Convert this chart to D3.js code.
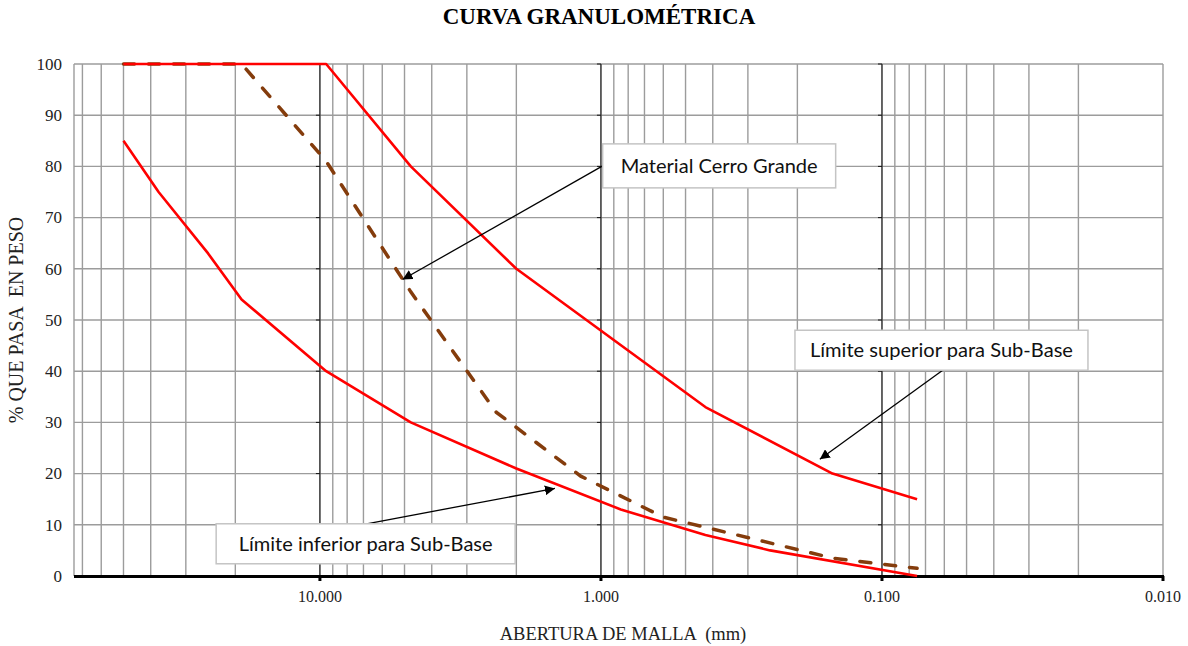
<html>
<head>
  <title>Curva granulometrica</title>
  <script src="https://d3js.org/d3.v7.min.js"></script>
  <style>
    body { margin: 0; background: #fff; }
    .serif { font-family: "Times New Roman", "Liberation Serif", serif; fill: #222; white-space: pre; }
    .note { font-family: Lato, "Open Sans", sans-serif; fill: #111; }
  </style>
</head>
<body>
  <div id="vis"></div>
  <script>
    // sieve openings (mm) and % passing for each curve
    var supSizes = [50, 9.5, 4.75, 2.0, 0.425, 0.15, 0.075];
    var supPass = [100, 100, 80, 60, 33, 20, 15];
    var infSizes = [50, 37.5, 25, 19, 9.5, 4.75, 2.0, 0.85, 0.425, 0.25, 0.075];
    var infPass = [85, 75, 63, 54, 40, 30, 21, 13, 8, 5, 0];
    var matSizes = [50, 37.5, 25, 19, 9.5, 4.75, 2.36, 1.18, 0.6, 0.15, 0.075];
    var matPass = [100, 100, 100, 100, 81, 55.5, 32, 19.5, 11.5, 3.5, 1.5];

    var yTicks = [0, 10, 20, 30, 40, 50, 60, 70, 80, 90, 100];
    var xDecades = [10, 1, 0.1, 0.01];
    var xTickLabels = ["10.000", "1.000", "0.100", "0.010"];

    // callouts: box corner and arrow ends in data units (mm, %)
    var notes = [
      {text: "Material Cerro Grande", bx: 0.986, by: 84.4, w: 233, h: 44, fx: 0.986, fy: 80.1, tx: 5.08, ty: 57.9, len: 197},
      {text: "Límite superior para Sub-Base", bx: 0.204, by: 48.0, w: 293, h: 40, fx: 0.0608, fy: 40.2, tx: 0.1664, ty: 22.8, len: 263},
      {text: "Límite inferior para Sub-Base", bx: 23.4, by: 10.2, w: 299, h: 40, fx: 6.82, fy: 10.2, tx: 1.458, ty: 17.1, len: 254}
    ];

    var W = 1188, H = 646;
    var svg = d3.select('#vis').append('svg')
      .attr('width', W).attr('height', H);

    var x = d3.scaleLog().domain([75, 0.01]).range([74, 1163]);
    var y = d3.scaleLinear().domain([0, 100]).range([576, 64]);

    // grid
    svg.append('g').selectAll('line.vg')
      .data(x.ticks())
      .enter().append('line')
        .attr('x1', function(d) { return x(d); })
        .attr('x2', function(d) { return x(d); })
        .attr('y1', y(0)).attr('y2', y(100))
        .attr('stroke', '#9c9c9c').attr('stroke-width', 1.4);

    svg.append('line')
      .attr('x1', x(75)).attr('x2', x(75))
      .attr('y1', y(0)).attr('y2', y(100))
      .attr('stroke', '#9c9c9c').attr('stroke-width', 1.4);

    svg.append('g').selectAll('line.hg')
      .data(yTicks)
      .enter().append('line')
        .attr('x1', x(75)).attr('x2', x(0.01))
        .attr('y1', function(d) { return y(d); })
        .attr('y2', function(d) { return y(d); })
        .attr('stroke', '#9c9c9c').attr('stroke-width', 1.4);

    // decade lines, darker, with little ticks
    var dec = svg.append('g');
    dec.selectAll('line')
      .data(xDecades.slice(0, 3))
      .enter().append('line')
        .attr('x1', function(d) { return x(d); })
        .attr('x2', function(d) { return x(d); })
        .attr('y1', y(0)).attr('y2', y(100))
        .attr('stroke', '#111').attr('stroke-width', 1);
    xDecades.slice(0, 3).forEach(function(dv) {
      dec.selectAll('line.t' + String(dv).replace('.', ''))
        .data(yTicks)
        .enter().append('line')
          .attr('x1', x(dv) - 4).attr('x2', x(dv))
          .attr('y1', function(d) { return y(d); })
          .attr('y2', function(d) { return y(d); })
          .attr('stroke', '#111').attr('stroke-width', 1);
    });

    // y labels
    svg.append('g').selectAll('text')
      .data(yTicks)
      .enter().append('text')
        .attr('class', 'serif')
        .attr('x', 62)
        .attr('y', function(d) { return y(d); })
        .attr('dy', '0.34em')
        .attr('text-anchor', 'end')
        .style('font-size', '17px')
        .text(function(d) { return d; });

    // bottom axis
    svg.append('line')
      .attr('x1', x(75)).attr('x2', x(0.01) + 1)
      .attr('y1', y(0) + 0.5).attr('y2', y(0) + 0.5)
      .attr('stroke', '#000').attr('stroke-width', 3.2);

    svg.append('g').selectAll('line')
      .data(xDecades)
      .enter().append('line')
        .attr('x1', function(d) { return x(d); })
        .attr('x2', function(d) { return x(d); })
        .attr('y1', y(0)).attr('y2', y(0) + 5)
        .attr('stroke', '#000').attr('stroke-width', 3);

    svg.append('g').selectAll('text')
      .data(xDecades)
      .enter().append('text')
        .attr('class', 'serif')
        .attr('x', function(d) { return x(d); })
        .attr('y', 602)
        .attr('text-anchor', 'middle')
        .style('font-size', '16px')
        .text(function(d, i) { return xTickLabels[i]; });

    // curves
    var line = d3.line()
      .x(function(d) { return x(d[0]); })
      .y(function(d) { return y(d[1]); });

    svg.append('path')
      .datum(d3.zip(matSizes, matPass))
      .attr('d', line)
      .attr('fill', 'none')
      .attr('stroke', '#843C0C')
      .attr('stroke-width', 3.5)
      .attr('stroke-linecap', 'round')
      .attr('stroke-dasharray', '11,14');

    [[supSizes, supPass], [infSizes, infPass]].forEach(function(s) {
      svg.append('path')
        .datum(d3.zip(s[0], s[1]))
        .attr('d', line)
        .attr('fill', 'none')
        .attr('stroke', '#ff0000')
        .attr('stroke-width', 2.6)
        .attr('stroke-linejoin', 'round');
    });

    // arrow marker
    svg.append('defs').append('marker')
      .attr('id', 'arr')
      .attr('viewBox', '0 0 10 10')
      .attr('refX', 10).attr('refY', 5)
      .attr('markerWidth', 10).attr('markerHeight', 10)
      .attr('markerUnits', 'userSpaceOnUse')
      .attr('orient', 'auto')
      .append('path')
        .attr('d', 'M0,0 L10,5 L0,10 Z')
        .attr('fill', '#000');

    // callouts
    notes.forEach(function(n) {
      svg.append('line')
        .attr('x1', x(n.fx)).attr('y1', y(n.fy))
        .attr('x2', x(n.tx)).attr('y2', y(n.ty))
        .attr('stroke', '#000').attr('stroke-width', 1.3)
        .attr('marker-end', 'url(#arr)');
    });
    notes.forEach(function(n) {
      svg.append('rect')
        .attr('x', x(n.bx)).attr('y', y(n.by))
        .attr('width', n.w).attr('height', n.h)
        .attr('fill', '#fff')
        .attr('stroke', '#c4c4c4').attr('stroke-width', 1.5);
      svg.append('text')
        .attr('class', 'note')
        .attr('x', x(n.bx) + (n.w - n.len) / 2)
        .attr('y', y(n.by) + n.h / 2)
        .attr('dy', '0.36em')
        .attr('textLength', n.len)
        .attr('lengthAdjust', 'spacingAndGlyphs')
        .style('font-size', '19px')
        .text(n.text);
    });

    // titles
    svg.append('text')
      .attr('class', 'serif')
      .attr('x', 599).attr('y', 24)
      .attr('text-anchor', 'middle')
      .style('font-size', '23px')
      .style('font-weight', 'bold')
      .style('fill', '#000')
      .text('CURVA GRANULOMÉTRICA');

    svg.append('text')
      .attr('class', 'serif')
      .attr('x', 623).attr('y', 640)
      .attr('text-anchor', 'middle')
      .style('font-size', '18.5px')
      .text('ABERTURA DE MALLA  (mm)');

    svg.append('text')
      .attr('class', 'serif')
      .attr('transform', 'translate(23,' + 320 + ') rotate(-90)')
      .attr('text-anchor', 'middle')
      .style('font-size', '20px')
      .text('% QUE PASA  EN PESO');
  </script>
</body>
</html>
